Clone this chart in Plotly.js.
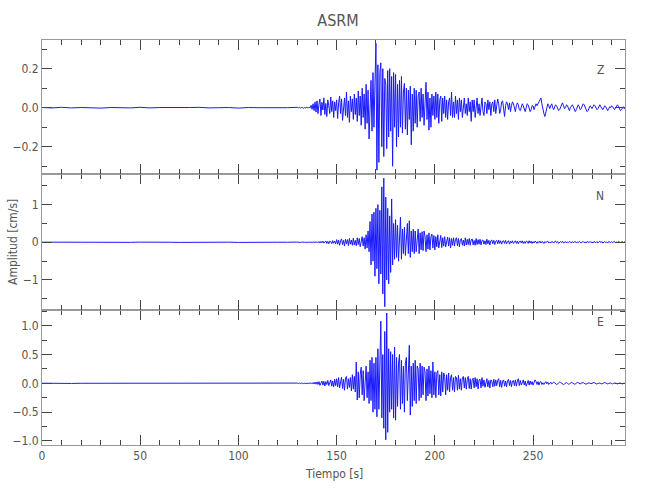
<!DOCTYPE html>
<html>
<head>
<meta charset="utf-8">
<script src="https://cdn.plot.ly/plotly-3.0.1.min.js"></script>
<style>html,body{margin:0;padding:0;background:#fff}#chart{width:650px;height:500px}</style>
</head>
<body>
<div id="chart"></div>
<script>
// ---- Data ----
// Pre-event segment: 0 s .. 130 s, one sample every 5 s
var preStart = 0, preStep = 5;
var zPre = [0.001,-0.001,0.002,-0.001,0.001,0.000,-0.002,0.001,0.000,-0.001,0.002,-0.001,0.001,0.000,-0.001,0.001,0.002,-0.001,0.000,0.001,-0.002,0.001,0.000,-0.001,0.001,0.000,0.002];
var nPre = [0.003,-0.002,0.004,-0.003,0.002,0.001,-0.004,0.003,0.000,-0.002,0.004,-0.003,0.002,0.001,-0.003,0.002,0.004,-0.002,0.001,0.003,-0.004,0.002,0.001,-0.003,0.002,0.001,0.005];
var ePre = [0.002,-0.002,0.003,-0.002,0.001,0.001,-0.003,0.002,0.000,-0.002,0.003,-0.002,0.001,0.001,-0.002,0.002,0.003,-0.001,0.000,0.002,-0.003,0.001,0.001,-0.002,0.002,0.000,0.004];

// Event segment: 130 s .. 297 s, one sample every 0.5 s
var evStart = 130, evStep = 0.5;
var zEvent = [
 0.002,-0.001,0.003,-0.002,0.001,0.002,-0.003,0.001,-0.002,0.002,0.001,-0.002,0.003,-0.001,0.012,-0.008,0.02,-0.015,0.03,-0.022,
 0.035,-0.03,0.018,0.045,-0.04,0.028,-0.012,0.05,-0.035,0.022,-0.045,0.04,0.01,-0.03,0.055,-0.02,0.035,-0.05,0.03,-0.015,
 0.04,-0.055,0.025,0.06,-0.03,0.045,-0.065,0.02,0.05,-0.04,0.08,-0.05,0.035,-0.075,0.06,-0.02,0.045,-0.06,0.07,-0.035,
 0.05,-0.07,0.085,-0.04,0.06,-0.09,0.1,-0.05,0.07,-0.11,0.12,-0.08,0.09,-0.16,0.06,0.14,-0.12,0.18,-0.1,0.15,
 0.33,-0.32,0.22,-0.28,0.18,0.23,-0.2,0.2,-0.25,0.15,0.12,-0.21,0.19,-0.15,0.2,-0.12,0.16,-0.3,0.18,-0.1,
 0.17,-0.2,0.12,-0.15,0.14,-0.1,0.16,-0.13,0.08,0.125,-0.11,0.1,-0.14,0.09,-0.06,0.11,-0.19,0.07,-0.12,0.1,
 -0.08,0.09,-0.1,0.06,0.08,-0.07,0.1,-0.05,0.07,-0.09,0.06,0.13,-0.06,0.08,-0.115,0.05,-0.1,0.07,-0.04,0.06,
 -0.06,0.08,-0.05,0.07,-0.08,0.04,0.06,-0.07,0.05,-0.03,0.06,-0.05,0.04,-0.06,0.03,0.05,-0.04,0.08,-0.05,0.03,
 -0.05,0.06,-0.03,0.04,-0.06,0.05,-0.02,0.04,-0.05,0.03,0.05,-0.03,0.02,-0.04,0.05,-0.02,0.03,-0.07,0.04,-0.02,
 0.04,-0.05,0.03,0.05,-0.03,0.02,-0.04,0.03,0.05,-0.02,-0.04,0.03,0.02,-0.03,0.04,-0.01,0.03,-0.04,0.02,0.03,
 -0.02,0.04,-0.03,0.01,0.045,0.02,-0.03,-0.01,0.03,0.035,-0.02,-0.045,0.01,0.03,0.02,-0.01,0.025,-0.02,0.01,0.03,
 0.02,-0.01,-0.02,0.01,0.025,0.015,-0.01,-0.015,0.005,0.02,0.01,-0.01,-0.02,0.0,0.02,0.015,-0.005,-0.02,-0.01,0.01,
 0.01,-0.01,0.005,0.02,0.01,0.025,0.03,0.04,0.05,0.02,-0.01,-0.03,-0.045,-0.02,0.01,0.02,0.01,-0.005,0.01,0.02,
 0.0,-0.01,0.005,0.015,0.01,-0.005,-0.015,-0.01,0.005,0.02,0.025,0.01,-0.005,0.0,0.015,0.01,-0.01,-0.015,0.0,0.01,
 0.015,0.005,-0.01,-0.02,-0.01,0.01,0.015,0.005,-0.01,-0.005,0.01,0.02,0.015,0.0,-0.01,-0.02,-0.015,0.0,0.01,0.005,
 -0.005,0.005,0.015,0.01,0.0,-0.01,-0.005,0.01,0.015,0.005,-0.005,-0.01,0.0,0.01,0.005,-0.01,-0.015,-0.005,0.005,0.0,
 0.01,0.005,-0.005,-0.01,0.0,0.01,0.015,0.005,-0.005,-0.015,-0.01,0.0,0.005,-0.005,-0.01
];
var nEvent = [
 0.005,-0.004,0.006,-0.005,0.003,0.006,-0.007,0.004,-0.005,0.006,0.003,-0.006,0.008,-0.004,0.007,-0.009,0.01,-0.006,0.012,-0.01,
 0.015,-0.012,0.02,-0.018,0.025,-0.015,0.03,-0.022,0.018,0.035,-0.03,0.025,-0.04,0.03,0.02,-0.035,0.045,-0.025,0.03,-0.04,
 0.07,-0.05,0.06,-0.08,0.04,0.09,-0.06,0.05,-0.1,0.08,-0.04,0.07,-0.09,0.1,-0.05,0.06,-0.08,0.11,-0.07,0.05,
 -0.09,0.12,-0.06,0.1,-0.12,0.08,0.15,-0.1,0.12,-0.18,0.2,-0.15,0.3,-0.25,0.55,-0.6,0.75,-0.5,0.8,-0.9,
 0.9,-0.7,1.0,-1.1,0.85,-0.84,1.47,-1.37,1.7,-1.71,1.2,-1.0,0.9,-1.1,0.7,-0.8,1.15,-0.6,0.5,-0.45,
 0.6,-0.4,0.45,-0.5,0.3,0.67,-0.45,0.35,-0.3,0.4,-0.35,0.25,0.5,-0.3,0.57,-0.4,0.3,-0.25,0.35,-0.3,
 0.3,-0.25,0.2,0.35,-0.3,0.25,-0.2,0.28,-0.22,0.3,0.15,-0.25,0.2,-0.18,0.25,-0.2,0.15,0.22,-0.15,0.18,
 -0.2,0.15,-0.12,0.2,-0.15,0.1,0.18,-0.14,0.12,-0.1,0.15,-0.12,0.08,0.14,-0.1,0.12,-0.15,0.1,-0.08,0.12,
 -0.1,0.08,0.12,-0.09,0.1,-0.12,0.07,0.1,-0.08,0.06,-0.1,0.12,-0.07,0.08,-0.06,0.1,-0.08,0.06,0.09,-0.07,
 0.05,-0.08,0.1,-0.06,0.07,-0.05,0.08,-0.07,0.05,0.06,-0.05,0.04,-0.06,0.08,-0.04,0.05,-0.07,0.04,0.06,-0.04,
 0.05,-0.06,0.03,0.05,-0.04,0.06,-0.03,0.04,-0.05,0.03,0.04,-0.03,0.05,-0.04,0.02,0.04,-0.05,0.03,-0.02,0.04,
 -0.03,0.02,0.04,-0.03,0.03,-0.04,0.02,0.03,-0.02,0.04,-0.03,0.02,-0.03,0.03,0.02,-0.03,0.04,-0.02,0.03,-0.03,
 0.02,-0.02,0.03,0.01,-0.03,0.02,-0.01,0.03,-0.02,0.02,0.01,-0.03,0.02,-0.01,0.02,0.03,-0.02,0.01,-0.02,0.02,
 0.01,-0.02,0.02,0.03,-0.01,0.02,-0.03,0.01,0.02,-0.01,0.03,-0.02,0.01,0.02,-0.02,0.01,-0.01,0.02,0.01,-0.02,
 0.02,-0.01,0.01,0.02,-0.02,0.01,-0.01,0.02,0.01,-0.02,0.01,0.02,-0.01,0.01,-0.02,0.02,0.01,-0.01,0.02,-0.01,
 0.01,-0.02,0.02,0.01,-0.01,0.02,-0.02,0.01,0.03,-0.01,0.02,-0.02,0.01,0.02,-0.01,0.01,-0.02,0.02,0.01,-0.01,
 0.02,-0.01,0.01,0.02,-0.02,0.01,-0.01,0.02,0.01,-0.02,0.01,0.02,-0.01,0.01,0.0
];
var eEvent = [
 0.004,-0.003,0.005,-0.004,0.002,0.005,-0.006,0.003,-0.004,0.005,0.002,-0.004,0.006,-0.003,0.01,-0.008,0.015,-0.012,0.02,-0.015,
 0.025,-0.02,0.03,-0.035,0.02,0.04,-0.03,0.035,-0.045,0.03,-0.02,0.05,-0.04,0.035,0.06,-0.05,0.04,-0.06,0.07,-0.04,
 0.08,-0.06,0.1,-0.08,0.05,0.11,-0.09,0.07,-0.12,0.09,0.12,-0.1,0.08,-0.07,0.1,-0.13,0.15,-0.1,0.12,-0.15,
 0.37,-0.29,0.2,-0.25,0.15,0.28,-0.2,0.22,-0.3,0.18,0.3,-0.25,0.2,-0.35,0.4,-0.3,0.45,-0.5,0.35,-0.45,
 0.45,-0.58,0.6,-0.45,0.7,1.08,-0.6,0.5,-0.78,0.9,-0.98,1.22,-0.85,0.6,-0.5,0.55,-0.45,0.5,-0.6,0.63,
 -0.64,0.45,-0.4,0.35,0.5,-0.45,0.4,-0.35,0.3,-0.5,0.35,0.45,-0.3,0.4,0.66,-0.55,0.3,-0.4,0.35,-0.3,
 0.4,-0.35,0.3,0.25,-0.3,0.35,-0.25,0.3,-0.2,0.28,0.2,-0.3,0.25,-0.22,0.3,-0.18,0.22,-0.25,0.37,-0.2,
 0.2,-0.25,0.18,0.22,-0.2,0.15,-0.22,0.2,-0.15,0.18,0.12,-0.2,0.15,-0.12,0.18,-0.15,0.1,0.15,-0.12,0.1,
 -0.15,0.12,0.1,-0.12,0.14,-0.1,0.08,-0.12,0.1,0.12,-0.08,0.1,-0.1,0.07,0.12,-0.09,0.08,-0.1,0.06,0.09,
 -0.08,0.1,-0.06,0.08,-0.1,0.06,0.07,-0.08,0.1,-0.05,0.06,-0.07,0.05,0.08,-0.06,0.05,-0.08,0.06,0.04,-0.06,
 0.07,-0.05,0.06,-0.04,0.05,0.08,-0.06,0.05,-0.07,0.04,0.06,-0.05,0.04,-0.06,0.05,0.07,-0.04,0.05,-0.06,0.04,
 0.05,-0.04,0.06,-0.05,0.04,0.08,-0.04,0.05,-0.03,0.04,0.06,-0.03,0.04,-0.05,0.03,0.05,-0.03,0.04,-0.02,0.03,
 -0.03,0.04,0.06,0.03,-0.02,0.03,-0.03,0.02,0.03,-0.02,0.01,-0.02,0.02,0.03,-0.01,0.02,-0.02,0.01,0.02,-0.01,
 0.01,0.02,0.01,-0.01,-0.02,-0.01,0.01,0.02,0.015,0.0,-0.01,-0.02,-0.01,0.01,0.015,0.0,-0.015,-0.01,0.005,0.015,
 0.01,-0.005,-0.015,-0.01,0.005,0.015,0.01,-0.005,-0.01,0.0,0.01,0.015,0.0,-0.01,-0.015,-0.005,0.01,0.01,0.0,-0.01,
 -0.005,0.01,0.015,0.005,-0.01,-0.015,0.0,0.01,0.005,-0.005,-0.01,0.0,0.01,0.015,0.005,-0.01,-0.01,0.0,0.01,0.005,
 -0.005,-0.01,0.0,0.01,0.005,-0.005,-0.01,0.0,0.01,0.005,-0.005,-0.01,0.0,0.005,0.0
];

var componentLabels = ["Z", "N", "E"];
var titleText = "ASRM";
var xTitle = "Tiempo [s]";
var yTitle = "Amplitud [cm/s]";

// ---- Styling ----
var traceColor = "rgb(25,25,255)";
var fontFam = "'Liberation Sans Narrow', 'DejaVu Sans Condensed', 'Arial Narrow', 'DejaVu Sans', sans-serif";
var textColor = "#555";

function line(x0, dx, y, yaxis) {
  return {type: "scatter", mode: "lines", x0: x0, dx: dx, y: y,
          xaxis: yaxis === "y" ? "x3" : (yaxis === "y2" ? "x2" : "x"), yaxis: yaxis,
          line: {color: traceColor, width: 1}, hoverinfo: "skip", showlegend: false};
}

var data = [
  line(preStart, preStep, zPre, "y"),  line(evStart, evStep, zEvent, "y"),
  line(preStart, preStep, nPre, "y2"), line(evStart, evStep, nEvent, "y2"),
  line(preStart, preStep, ePre, "y3"), line(evStart, evStep, eEvent, "y3")
];

var axisCommon = {
  showline: true, mirror: "ticks", linecolor: "#999", linewidth: 1,
  ticks: "inside", ticklen: 10, tickwidth: 1, tickcolor: "#444",
  showgrid: false, zeroline: false,
  tickfont: {family: fontFam, size: 12, color: textColor}
};
function xax(anchor, showLabels) {
  return Object.assign({}, axisCommon, {
    anchor: anchor, domain: [0, 1], range: [0, 296.8], dtick: 50, tick0: 0,
    showticklabels: showLabels, matches: anchor === "y3" ? undefined : "x",
    minor: {dtick: 10, ticks: "inside", ticklen: 5, tickcolor: "#444"}
  });
}
function yax(anchor, dom, rng, dtick, minorDtick, fmt) {
  return Object.assign({}, axisCommon, {
    anchor: anchor, domain: dom, range: rng, dtick: dtick, tick0: 0, tickformat: fmt,
    minor: {dtick: minorDtick, ticks: "inside", ticklen: 5, tickcolor: "#444"}
  });
}

var layout = {
  width: 650, height: 500,
  margin: {l: 42, r: 25, t: 40, b: 55},
  paper_bgcolor: "#fff", plot_bgcolor: "#fff",
  showlegend: false,
  title: {text: titleText, x: 0.52, xanchor: "center", y: 0.96, yanchor: "middle",
          font: {family: fontFam, size: 16, color: textColor}},
  xaxis: xax("y3", true),
  xaxis2: xax("y2", false),
  xaxis3: xax("y", false),
  yaxis:  yax("x3", [0.669, 1], [-0.34, 0.347], 0.2, 0.1, ".1f"),
  yaxis2: yax("x2", [0.333, 0.669], [-1.8, 1.81], 1, 0.5, "d"),
  yaxis3: yax("x", [0, 0.333], [-1.07, 1.27], 0.5, 0.25, ".1f"),
  annotations: [
    {text: componentLabels[0], xref: "paper", yref: "paper", x: 0.967, y: 0.948, showarrow: false,
     font: {family: fontFam, size: 12, color: textColor}},
    {text: componentLabels[1], xref: "paper", yref: "paper", x: 0.967, y: 0.615, showarrow: false,
     font: {family: fontFam, size: 12, color: textColor}},
    {text: componentLabels[2], xref: "paper", yref: "paper", x: 0.967, y: 0.281, showarrow: false,
     font: {family: fontFam, size: 12, color: textColor}},
    {text: yTitle, xref: "paper", yref: "paper", x: -0.05, y: 0.501, textangle: -90, showarrow: false,
     xanchor: "center", yanchor: "middle", font: {family: fontFam, size: 12, color: textColor}},
    {text: xTitle, xref: "paper", yref: "paper", x: 0.5, y: -0.072, showarrow: false,
     xanchor: "center", yanchor: "middle", font: {family: fontFam, size: 12, color: textColor}}
  ]
};

Plotly.newPlot("chart", data, layout, {staticPlot: true, displayModeBar: false});
</script>
</body>
</html>
